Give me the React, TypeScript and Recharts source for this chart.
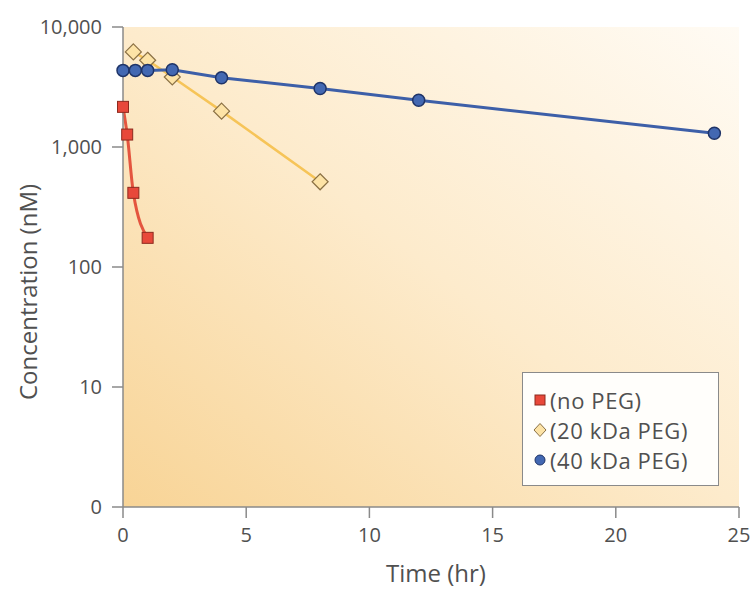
import { CartesianGrid, Label, Line, LineChart, XAxis, YAxis } from "recharts";

// hours after dosing, concentration in nM
const noPegHours = [0, 0.17, 0.42, 1];
const noPegConc = [2160, 1270, 415, 175];
const peg20Hours = [0.42, 1, 2, 4, 8];
const peg20Conc = [6200, 5280, 3830, 1990, 513];
const peg40Hours = [0, 0.5, 1, 2, 4, 8, 12, 24];
const peg40Conc = [4350, 4350, 4350, 4400, 3770, 3070, 2450, 1300];

const xTicks = [0, 5, 10, 15, 20, 25];
const yTicks = [1, 10, 100, 1000, 10000];

const zip = (xs: number[], ys: number[]) => xs.map((x, i) => ({ x, y: ys[i] }));

const noPeg = zip(noPegHours, noPegConc);
const peg20 = zip(peg20Hours, peg20Conc);
const peg40 = zip(peg40Hours, peg40Conc);

const FONT = "'Open Sans', 'Noto Sans', sans-serif";
const TEXT = "#505050";
const AXIS = "#8a8a8a";

const RED = { line: "#e4553f", fill: "#e8483a", edge: "#8e2a1e" };
const YEL = { line: "#f6c458", fill: "#fde3a6", edge: "#8a7044" };
const BLUE = { line: "#3d5fa8", fill: "#4368b2", edge: "#1f3468" };

function SquareDot({ cx, cy }: any) {
  if (cx == null || cy == null) return null;
  return <rect x={cx - 5.5} y={cy - 5.5} width={11} height={11} fill={RED.fill} stroke={RED.edge} strokeWidth={1} />;
}

function DiamondDot({ cx, cy }: any) {
  if (cx == null || cy == null) return null;
  const r = 8;
  return (
    <polygon
      points={`${cx},${cy - r} ${cx + r},${cy} ${cx},${cy + r} ${cx - r},${cy}`}
      fill={YEL.fill}
      stroke={YEL.edge}
      strokeWidth={1.2}
    />
  );
}

function CircleDot({ cx, cy }: any) {
  if (cx == null || cy == null) return null;
  return <circle cx={cx} cy={cy} r={6} fill={BLUE.fill} stroke={BLUE.edge} strokeWidth={1.5} />;
}

function LegendBox() {
  const row = { display: "flex", alignItems: "center", height: 30, lineHeight: "30px" } as const;
  return (
    <div
      style={{
        position: "absolute",
        left: 522,
        top: 372,
        width: 195,
        height: 112,
        border: `1px solid ${AXIS}`,
        background: "#fffefb",
        fontFamily: FONT,
        fontSize: 22,
        letterSpacing: 0.6,
        color: TEXT,
      }}
    >
      <div style={{ paddingTop: 12, paddingLeft: 10 }}>
        <div style={row}>
          <svg width={14} height={16} style={{ marginRight: 3 }}>
            <rect x={2} y={3} width={10} height={10} fill={RED.fill} stroke={RED.edge} />
          </svg>
          (no PEG)
        </div>
        <div style={row}>
          <svg width={14} height={16} style={{ marginRight: 3 }}>
            <polygon points="7,1.5 13,8 7,14.5 1,8" fill={YEL.fill} stroke={YEL.edge} />
          </svg>
          (20 kDa PEG)
        </div>
        <div style={row}>
          <svg width={14} height={16} style={{ marginRight: 3 }}>
            <circle cx={7} cy={8} r={5} fill={BLUE.fill} stroke={BLUE.edge} />
          </svg>
          (40 kDa PEG)
        </div>
      </div>
    </div>
  );
}

const fmtY = (v: number) => (v === 1 ? "0" : v.toLocaleString("en-US"));

export default function App() {
  const tick = { fill: TEXT, fontSize: 20, fontFamily: FONT };
  return (
    <div style={{ position: "relative", width: 753, height: 589, paddingLeft: 8, paddingTop: 8, boxSizing: "border-box" }}>
      <style>{"body{margin:0;overflow:hidden}"}</style>
      <LineChart width={745} height={581} margin={{ top: 19, right: 14, bottom: 0, left: 0 }}>
        <defs>
          <linearGradient id="bgGrad" x1="0" y1="1" x2="1" y2="0">
            <stop offset="0%" stopColor="#f8d496" />
            <stop offset="50%" stopColor="#fdebcc" />
            <stop offset="100%" stopColor="#fffbf4" />
          </linearGradient>
        </defs>
        <CartesianGrid horizontal={false} vertical={false} fill="url(#bgGrad)" stroke="none" />
        <XAxis
          dataKey="x"
          type="number"
          domain={[0, 25]}
          ticks={xTicks}
          allowDuplicatedCategory={false}
          height={82}
          tick={tick}
          tickSize={11}
          tickMargin={10}
          stroke={AXIS}
          strokeWidth={1.5}
        >
          <Label
            content={({ viewBox }: any) => (
              <text
                x={viewBox.x + viewBox.width / 2 + 5}
                y={viewBox.y + 75}
                textAnchor="middle"
                fill={TEXT}
                fontSize={24}
                fontFamily={FONT}
              >
                Time (hr)
              </text>
            )}
          />
        </XAxis>
        <YAxis
          dataKey="y"
          type="number"
          scale="log"
          domain={[1, 10000]}
          ticks={yTicks}
          tickFormatter={fmtY}
          width={115}
          tick={tick}
          tickSize={11}
          tickMargin={10}
          stroke={AXIS}
          strokeWidth={1.5}
          allowDataOverflow
        >
          <Label
            content={({ viewBox }: any) => {
              const cx = 19;
              const cy = viewBox.y + viewBox.height / 2 + 25;
              return (
                <text
                  x={cx}
                  y={cy}
                  transform={`rotate(-90 ${cx} ${cy})`}
                  textAnchor="middle"
                  dominantBaseline="central"
                  fill={TEXT}
                  fontSize={24}
                  fontFamily={FONT}
                >
                  Concentration (nM)
                </text>
              );
            }}
          />
        </YAxis>
        <Line
          data={noPeg}
          dataKey="y"
          type="monotone"
          stroke={RED.line}
          strokeWidth={3}
          dot={<SquareDot />}
          isAnimationActive={false}
        />
        <Line
          data={peg20}
          dataKey="y"
          type="linear"
          stroke={YEL.line}
          strokeWidth={2.5}
          dot={<DiamondDot />}
          isAnimationActive={false}
        />
        <Line
          data={peg40}
          dataKey="y"
          type="linear"
          stroke={BLUE.line}
          strokeWidth={3}
          dot={<CircleDot />}
          isAnimationActive={false}
        />
      </LineChart>
      <LegendBox />
    </div>
  );
}
